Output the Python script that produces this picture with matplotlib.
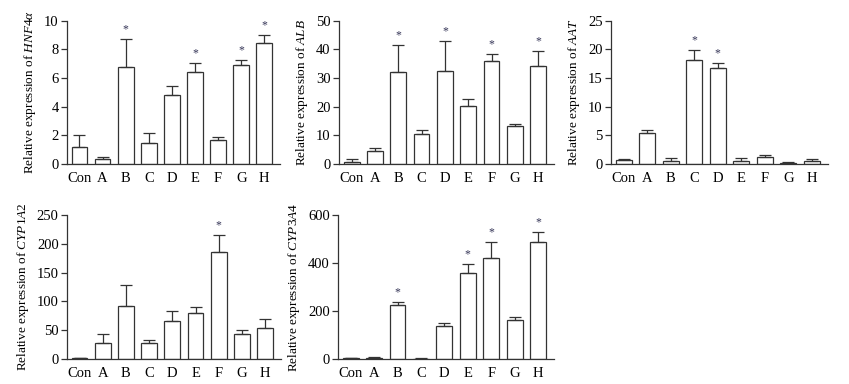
import numpy as np
import matplotlib.pyplot as plt

plt.rcParams['font.family'] = 'Liberation Serif'
plt.rcParams['mathtext.fontset'] = 'custom'
plt.rcParams['mathtext.rm'] = 'Liberation Serif'
plt.rcParams['mathtext.it'] = 'Liberation Serif:italic'

groups = ['Con', 'A', 'B', 'C', 'D', 'E', 'F', 'G', 'H']

hnf4a = [1.21, 0.33, 6.79, 1.49, 4.84, 6.42, 1.67, 6.91, 8.42]
hnf4a_err = [0.79, 0.14, 1.91, 0.65, 0.58, 0.60, 0.24, 0.35, 0.56]
hnf4a_sig = ['B', 'E', 'G', 'H']

alb = [0.8, 4.5, 32.1, 10.6, 32.6, 20.1, 36.0, 13.1, 34.2]
alb_err = [0.9, 1.0, 9.3, 1.4, 10.3, 2.6, 2.3, 0.7, 5.1]
alb_sig = ['B', 'D', 'F', 'H']

aat = [0.7, 5.35, 0.58, 18.2, 16.7, 0.58, 1.16, 0.23, 0.58]
aat_err = [0.17, 0.65, 0.42, 1.7, 1.0, 0.42, 0.34, 0.12, 0.29]
aat_sig = ['C', 'D']

cyp1a2 = [1, 27, 92, 27, 66, 80, 185, 44, 53]
cyp1a2_err = [0.5, 16, 37, 6, 18, 10, 31, 7, 16]
cyp1a2_sig = ['F']

cyp3a4 = [3, 4, 224, 2, 136, 359, 421, 163, 487]
cyp3a4_err = [1, 3, 14, 1, 13, 38, 66, 12, 42]
cyp3a4_sig = ['B', 'E', 'F', 'H']

panels = [
    (hnf4a, hnf4a_err, hnf4a_sig, r'HNF4\alpha', 10, 2, [67, 280, 20.7, 164]),
    (alb, alb_err, alb_sig, 'ALB', 50, 10, [339, 554, 20.7, 164]),
    (aat, aat_err, aat_sig, 'AAT', 25, 5, [611, 828, 20.7, 164]),
    (cyp1a2, cyp1a2_err, cyp1a2_sig, 'CYP1A2', 250, 50, [67, 281, 215, 359]),
    (cyp3a4, cyp3a4_err, cyp3a4_sig, 'CYP3A4', 600, 200, [338, 554, 215, 359]),
]

W, H = 849, 384
fig = plt.figure(figsize=(W / 100, H / 100), dpi=100)

for vals, errs, sig, gene, ymax, step, (l, r, t, b) in panels:
    ax = fig.add_axes([l / W, (H - b) / H, (r - l) / W, (b - t) / H])
    x = np.arange(len(groups))
    ax.bar(x, vals, width=0.68, color='white', edgecolor='#333333', linewidth=0.9, zorder=2)
    ax.errorbar(x, vals, yerr=[np.zeros(len(errs)), errs], fmt='none',
                ecolor='#333333', elinewidth=0.9, capsize=4, capthick=0.9, zorder=3)
    for g in sig:
        i = groups.index(g)
        ax.text(i, vals[i] + errs[i] + ymax * 0.025, '*', ha='center', va='bottom',
                fontsize=8.5, color='#333355')
    ax.set_xlim(-0.54, 8.68)
    ax.set_ylim(0, ymax)
    ax.set_yticks(np.arange(0, ymax + step / 2, step))
    ax.set_xticks(x)
    ax.set_xticklabels(groups)
    ax.spines['top'].set_visible(False)
    ax.spines['right'].set_visible(False)
    for s in ['left', 'bottom']:
        ax.spines[s].set_color('#333333')
        ax.spines[s].set_linewidth(0.9)
    ax.tick_params(axis='y', length=4, width=0.9, color='#333333', labelsize=10.5, pad=2)
    ax.tick_params(axis='x', length=0, labelsize=10.5, pad=6)
    ax.set_ylabel('Relative expression of $\\it{' + gene + '}$', fontsize=9.5, labelpad=4)

fig.savefig('out.png', dpi=100)
